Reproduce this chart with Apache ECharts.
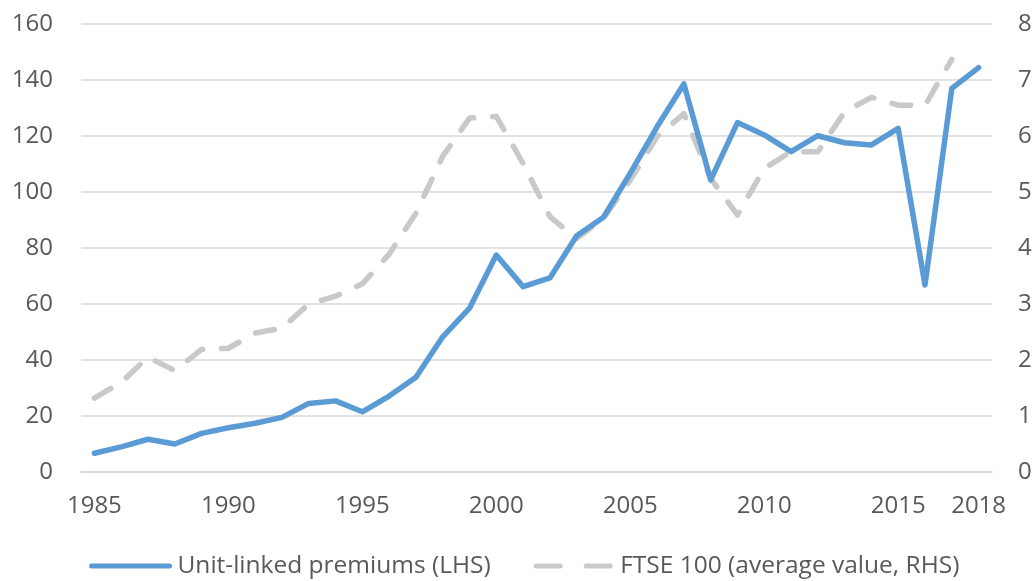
<!DOCTYPE html>
<html>
<head>
<meta charset="utf-8">
<script src="https://cdn.jsdelivr.net/npm/echarts@6/dist/echarts.min.js"></script>
<style>
html,body{margin:0;padding:0;background:#fff;}
#chart{width:1035px;height:581px;}
</style>
</head>
<body>
<div id="chart"></div>
<script>
const years = ['1985','1986','1987','1988','1989','1990','1991','1992','1993','1994','1995','1996','1997','1998','1999','2000','2001','2002','2003','2004','2005','2006','2007','2008','2009','2010','2011','2012','2013','2014','2015','2016','2017','2018'];
const unitLinked = [6.7,9.0,11.7,10.0,13.8,15.8,17.4,19.5,24.5,25.4,21.5,27.1,33.8,48.3,58.5,77.5,66.2,69.3,84.4,91.0,106.7,123.3,138.6,104.3,124.8,120.4,114.4,120.1,117.6,116.8,122.7,66.8,137.0,144.4];
const ftse = [1.32,1.6,2.05,1.81,2.19,2.21,2.48,2.57,3.0,3.14,3.36,3.89,4.62,5.64,6.32,6.35,5.51,4.56,4.17,4.53,5.21,5.99,6.40,5.24,4.59,5.42,5.72,5.72,6.43,6.69,6.55,6.55,7.37,null];
const leftTicks = {min:0, max:160, interval:20};
const rightTicks = {min:0, max:8, interval:1};
const shownYears = ['1985','1990','1995','2000','2005','2010','2015','2018'];
const seriesNames = ['Unit-linked premiums (LHS)','FTSE 100 (average value, RHS)'];

const FONT = '"Open Sans", "Noto Sans", sans-serif';
const TXT = '#595959';
const BLUE = '#5B9BD5';
const GREY = '#C9C9C9';
const chart = echarts.init(document.getElementById('chart'), null, {renderer:'canvas'});
chart.setOption({
  animation:false,
  backgroundColor:'#ffffff',
  grid:{left:81,right:43,top:24,bottom:109,containLabel:false},
  legend:{
    top:546,
    left:84,
    itemGap:43,
    itemWidth:84,
    itemHeight:5,
    textStyle:{fontFamily:FONT,fontSize:24.5,color:TXT,lineHeight:30},
    data:[
      {name:seriesNames[0],icon:'path://M2,0H80A2,2 0 0 1 80,5H2A2,2 0 0 1 2,0Z',itemStyle:{color:BLUE}},
      {name:seriesNames[1],icon:'path://M2,0H26A2,2 0 0 1 26,5H2A2,2 0 0 1 2,0Z M52,0H76A2,2 0 0 1 76,5H52A2,2 0 0 1 52,0Z',itemStyle:{color:GREY}}
    ]
  },
  xAxis:{
    type:'category',
    data:years,
    boundaryGap:true,
    axisLine:{show:true,lineStyle:{color:'#D9D9D9',width:1.5}},
    axisTick:{show:false},
    axisLabel:{
      interval:function(i,v){return shownYears.indexOf(v)>=0;},
      margin:22,
      fontFamily:FONT,fontSize:24,color:TXT
    },
    splitLine:{show:false}
  },
  yAxis:[
    {
      type:'value',
      min:leftTicks.min,max:leftTicks.max,interval:leftTicks.interval,
      axisLine:{show:false},axisTick:{show:false},
      axisLabel:{margin:28,fontFamily:FONT,fontSize:24,color:TXT},
      splitLine:{show:true,lineStyle:{color:'#D9D9D9',width:1.5}}
    },
    {
      type:'value',
      min:rightTicks.min,max:rightTicks.max,interval:rightTicks.interval,
      position:'right',
      axisLine:{show:false},axisTick:{show:false},
      axisLabel:{margin:26,fontFamily:FONT,fontSize:24,color:TXT},
      splitLine:{show:false}
    }
  ],
  series:[
    {
      name:seriesNames[0],
      type:'line',
      yAxisIndex:0,
      data:unitLinked,
      symbol:'none',
      lineStyle:{color:BLUE,width:5.5,join:'round',cap:'round'},
      itemStyle:{color:BLUE},
      z:3
    },
    {
      name:seriesNames[1],
      type:'line',
      yAxisIndex:1,
      data:ftse,
      symbol:'none',
      lineStyle:{color:GREY,width:5.5,type:[19,19],cap:'round',join:'round'},
      itemStyle:{color:GREY},
      z:2
    }
  ]
});
</script>
</body>
</html>
